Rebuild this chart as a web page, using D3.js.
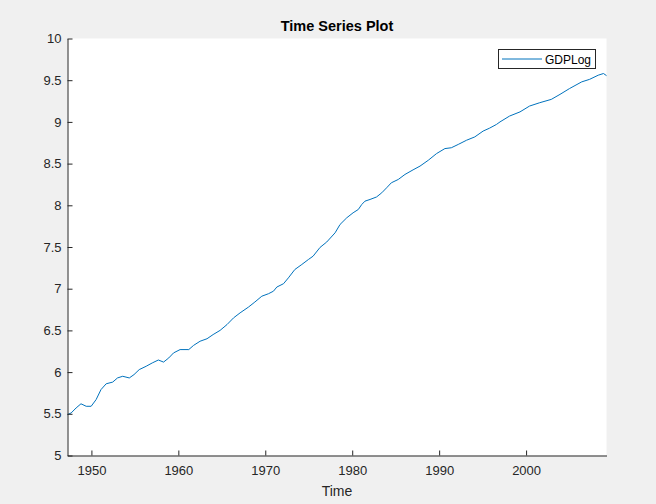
<!DOCTYPE html>
<html>
<head>
<meta charset="utf-8">
<script src="https://cdn.jsdelivr.net/npm/d3@7"></script>
<style>
  html, body { margin: 0; padding: 0; background: #F0F0F0; }
  svg { display: block; }
  text { font-family: "Liberation Sans", Arial, Helvetica, sans-serif; }
</style>
</head>
<body>
<svg id="chart" width="656" height="504"></svg>
<script>
const years = [1947.25,1947.67,1948.24,1948.8,1949.4,1949.97,1950.54,1951.1,1951.7,1952.45,
  1953.0,1953.6,1954.36,1954.9,1955.5,1956.3,1957.0,1957.7,1958.3,1958.9,
  1959.45,1960.2,1961.2,1961.75,1962.5,1963.3,1964.0,1964.8,1965.6,1966.35,
  1967.1,1968.07,1968.8,1969.6,1970.37,1970.94,1971.33,1972.1,1972.66,1973.4,
  1974.2,1974.96,1975.5,1976.3,1977.07,1978.03,1978.6,1979.37,1980.1,1980.7,
  1981.1,1981.47,1982.05,1982.8,1983.4,1983.96,1984.5,1985.3,1986.07,1987.0,
  1987.8,1988.75,1989.7,1990.66,1991.4,1992.2,1993.15,1994.1,1995.06,1995.8,
  1996.6,1997.0,1998.1,1999.3,2000.4,2001.57,2002.9,2003.9,2005.0,2006.4,
  2007.3,2008.3,2008.9,2009.25];
const gdpLog = [5.49,5.51,5.57,5.62,5.59,5.59,5.67,5.79,5.86,5.88,
  5.93,5.95,5.93,5.97,6.03,6.07,6.11,6.145,6.12,6.17,
  6.23,6.27,6.27,6.32,6.37,6.40,6.45,6.50,6.57,6.65,
  6.71,6.78,6.84,6.91,6.94,6.97,7.02,7.06,7.13,7.23,
  7.29,7.35,7.39,7.495,7.56,7.67,7.77,7.85,7.91,7.95,
  8.01,8.05,8.07,8.10,8.15,8.21,8.27,8.31,8.37,8.425,
  8.47,8.54,8.62,8.68,8.69,8.73,8.78,8.82,8.89,8.925,
  8.97,9.00,9.07,9.12,9.19,9.23,9.27,9.33,9.40,9.48,
  9.51,9.56,9.58,9.555];
const xTicks = [1950,1960,1970,1980,1990,2000];
const yTicks = [5,5.5,6,6.5,7,7.5,8,8.5,9,9.5,10];
const seriesName = "GDPLog";
const titleText = "Time Series Plot";
const xLabelText = "Time";

const svg = d3.select("#chart");
const L = 67.5, R = 606.5, T = 38.5, B = 455.5;
const axisColor = "#262626";
const lineColor = "#0072BD";

const x = d3.scaleLinear().domain([1947.25, 2009.25]).range([L, R]);
const y = d3.scaleLinear().domain([5, 10]).range([B, T]);

// axes background
svg.append("rect").attr("x", L).attr("y", T).attr("width", R - L).attr("height", B - T).attr("fill", "#fff");

// data line
const line = d3.line().x((d, i) => x(years[i])).y(d => y(d));
svg.append("path").datum(gdpLog)
  .attr("d", line).attr("fill", "none")
  .attr("stroke", lineColor).attr("stroke-width", 1);

// x axis
const xAxis = d3.axisBottom(x).tickValues(xTicks).tickFormat(d3.format("d")).tickSizeInner(-5).tickSizeOuter(0).tickPadding(10);
const gx = svg.append("g").attr("transform", `translate(0,${B})`).call(xAxis);
gx.select(".domain").attr("stroke", axisColor);
gx.selectAll(".tick line").attr("stroke", axisColor);
gx.selectAll(".tick text").attr("fill", axisColor).attr("font-size", 13).attr("font-family", "Liberation Sans, Arial, sans-serif");

// y axis
const yAxis = d3.axisLeft(y).tickValues(yTicks).tickFormat(d => String(d)).tickSizeInner(-5).tickSizeOuter(0).tickPadding(6);
const gy = svg.append("g").attr("transform", `translate(${L},0)`).call(yAxis);
gy.select(".domain").attr("stroke", axisColor);
gy.selectAll(".tick line").attr("stroke", axisColor);
gy.selectAll(".tick text").attr("fill", axisColor).attr("font-size", 13).attr("font-family", "Liberation Sans, Arial, sans-serif");

// title
svg.append("text").attr("x", (L + R) / 2).attr("y", 31).attr("text-anchor", "middle")
  .attr("font-size", 14.5).attr("font-weight", "bold").attr("fill", "#000").text(titleText);

// x label
svg.append("text").attr("x", (L + R) / 2).attr("y", 496).attr("text-anchor", "middle")
  .attr("font-size", 14).attr("fill", axisColor).text(xLabelText);

// legend
const lg = svg.append("g");
lg.append("rect").attr("x", 498.5).attr("y", 49.5).attr("width", 97).attr("height", 19)
  .attr("fill", "#fff").attr("stroke", axisColor).attr("stroke-width", 1);
lg.append("line").attr("x1", 502).attr("x2", 542).attr("y1", 59).attr("y2", 59)
  .attr("stroke", lineColor).attr("stroke-width", 1);
lg.append("text").attr("x", 545).attr("y", 63.5).attr("font-size", 12).attr("fill", "#000").text(seriesName);
</script>
</body>
</html>
